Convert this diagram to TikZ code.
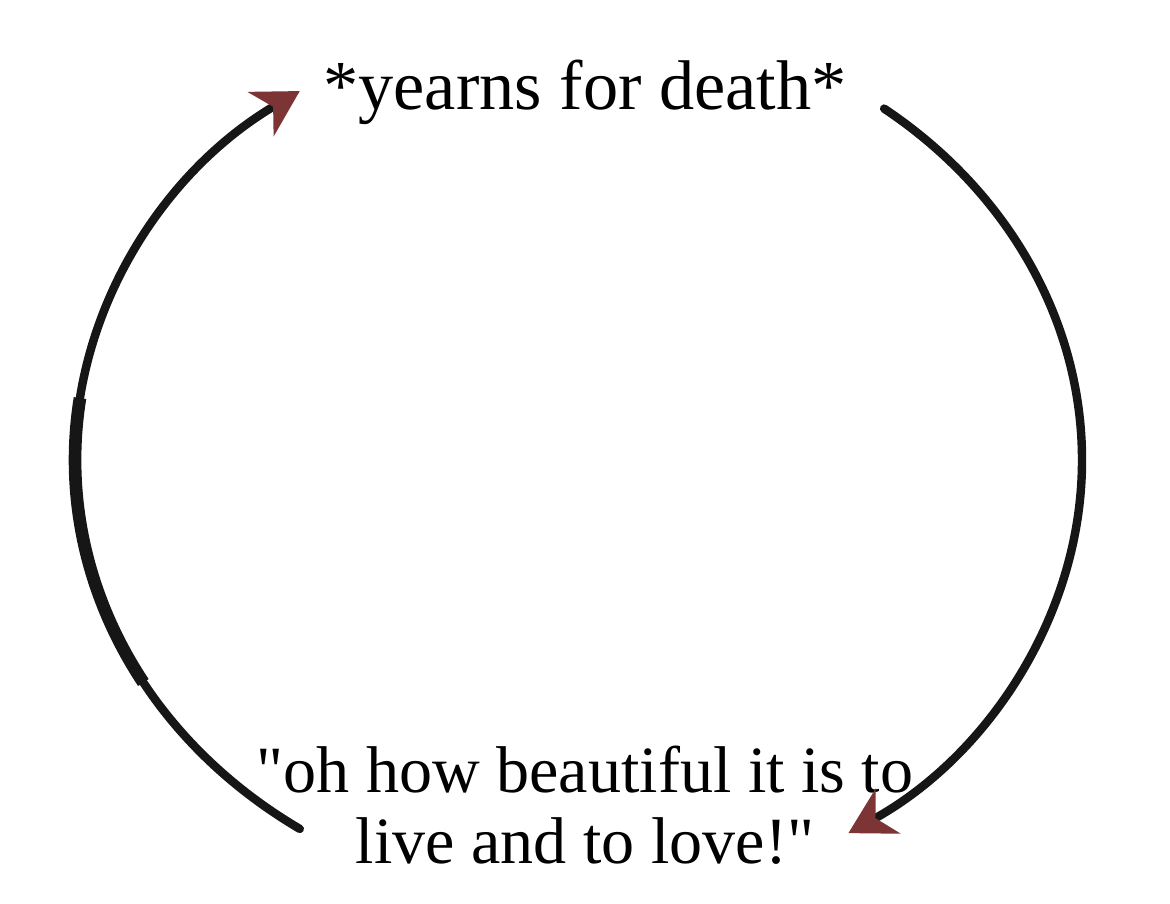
\documentclass[tikz,border=0pt]{standalone}
\usepackage{fontspec}
\newfontfamily\memefont{Liberation Serif}
\usepackage{tikz}
\usetikzlibrary{arrows.meta, positioning}
\definecolor{tipred}{RGB}{125,52,52}
\definecolor{inkblack}{RGB}{22,22,22}

\begin{document}
\begin{tikzpicture}[
    x=0.025cm, y=0.025cm,
    arcline/.style={
        draw=inkblack, line width=6pt,
        line cap=round
    },
    tipped/.style={
        -{Stealth[length=32pt, width=36pt, inset=10pt, color=tipred]}
    },
    caption/.style={
        font=\memefont\fontsize{47}{50.3}\selectfont,
        align=center, inner sep=0pt
    }
]
\useasboundingbox (0,0) rectangle (1170,903);

\node[caption, font=\memefont\fontsize{50}{52}\selectfont, anchor=base]
    (top) at (585,793)
    {*yearns for death*};
\node[caption, anchor=base]
    (bottom) at (585,40)
    {"oh how beautiful it is to\\live and to love!"};

\coordinate (ltail) at (299.8,74.1);
\coordinate (rtail) at (884.1,794.4);
\coordinate (lthick) at (80.0,504.9);

% left arc, upwards
\draw[arcline, tipped] (ltail)
    arc[start angle=236, end angle=124,
        x radius=510, y radius=445];
\draw[arcline, line width=9pt, line cap=butt] (lthick)
    arc[start angle=172, end angle=210,
        x radius=510, y radius=445];

% right arc, downwards
\draw[arcline, tipped] (rtail)
    arc[start angle=53, end angle=-58,
        x radius=497, y radius=440];
\end{tikzpicture}
\end{document}
